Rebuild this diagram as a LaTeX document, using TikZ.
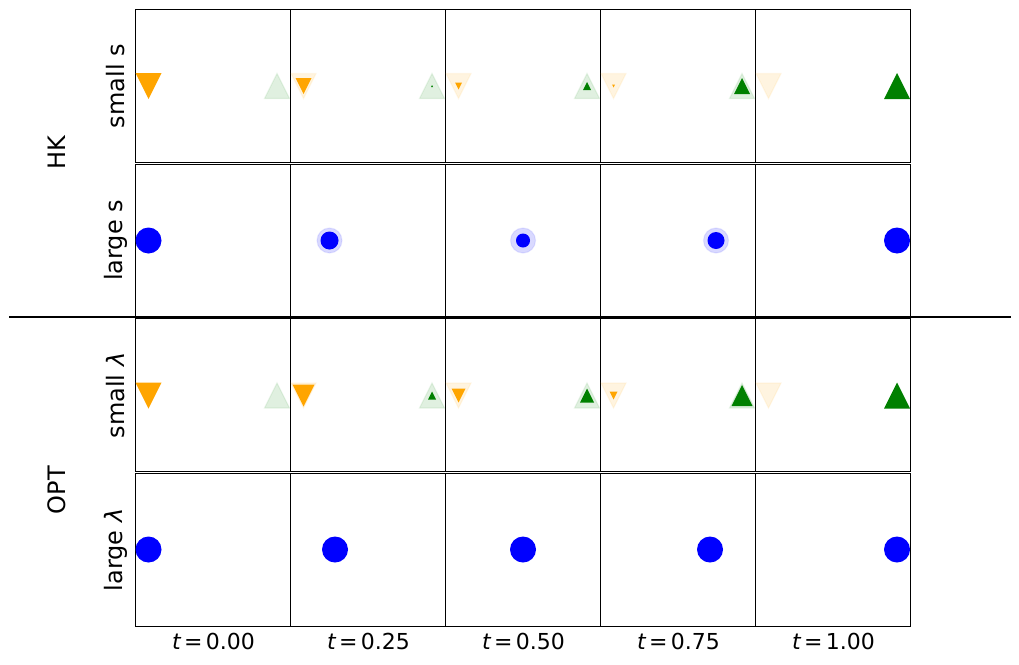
\documentclass[tikz,border=0pt]{standalone}
\usepackage{fontspec}
\setmainfont{DejaVu Sans}
\definecolor{mpor}{RGB}{255,165,0}
\definecolor{mpgr}{RGB}{0,128,0}
\definecolor{mpbl}{RGB}{0,0,255}
\newcommand\mkdn[4]{\filldraw[#4,shift={(#1,#2)},scale=#3/2] (-1,-1) -- (1,-1) -- (0,1) -- cycle;}
\newcommand\mkup[4]{\filldraw[#4,shift={(#1,#2)},scale=#3/2] (-1,1) -- (1,1) -- (0,-1) -- cycle;}
\newcommand\mkci[4]{\filldraw[#4] (#1,#2) circle[radius=#3/2*1pt];}
\begin{document}
\begin{tikzpicture}[x=1pt,y=-1pt,
  lab/.style={font=\fontsize{24}{28}\selectfont, rotate=90, inner sep=0pt},
  tlab/.style={font=\fontsize{22}{26}\selectfont, inner sep=0pt},
  panel/.style={draw=black, line width=0.8pt},
  om/.style={fill=mpor, draw=none}, omf/.style={fill=mpor, fill opacity=0.12, draw=mpor, draw opacity=0.08, line width=1.2pt, line join=miter},
  gm/.style={fill=mpgr, draw=none}, gmf/.style={fill=mpgr, fill opacity=0.12, draw=mpgr, draw opacity=0.08, line width=1.2pt, line join=miter},
  bm/.style={fill=mpbl, draw=none}, bmf/.style={fill=mpbl, fill opacity=0.15, draw=mpbl, draw opacity=0.08, line width=1.2pt}]
\useasboundingbox (0,0) rectangle (1019,664);
% panels
\foreach \ya/\yb in {9/162.5, 164.5/317, 318.5/471, 473/626}{
  \draw[panel] (135,\ya) rectangle (910,\yb);
  \foreach \xx in {290,445,600,755}{ \draw[panel] (\xx,\ya) -- (\xx,\yb); }
}
% separator
\coordinate (sepL) at (9,317);
\coordinate (sepR) at (1011,317);
\draw[line width=2pt] (sepL) -- (sepR);
% row 1 : HK small s
\mkdn{148.5}{86}{26}{om}
\mkup{277}{86}{25}{gmf}
\mkdn{303.5}{86}{25}{omf} \mkdn{303.5}{86}{16}{om}
\mkup{432}{86}{25}{gmf} \mkup{432}{86}{2}{gm}
\mkdn{458.5}{86}{25}{omf} \mkdn{458.5}{86}{7}{om}
\mkup{587}{86}{25}{gmf} \mkup{587}{86}{8}{gm}
\mkdn{613.5}{86}{25}{omf} \mkdn{613.5}{86}{3}{om}
\mkup{742}{86}{25}{gmf} \mkup{742}{86}{16}{gm}
\mkdn{768.5}{86}{25}{omf}
\mkup{897}{86}{26}{gm}
% row 2 : HK large s
\mkci{148.5}{240.5}{26}{bm}
\mkci{329.5}{240.5}{25}{bmf} \mkci{329.5}{240.5}{18}{bm}
\mkci{523}{240.5}{25}{bmf} \mkci{523}{240.5}{14}{bm}
\mkci{716}{240.5}{25}{bmf} \mkci{716}{240.5}{17}{bm}
\mkci{897}{240.5}{26}{bm}
% row 3 : OPT small lambda
\mkdn{148.5}{395.5}{26}{om}
\mkup{277}{395.5}{25}{gmf}
\mkdn{303.5}{395.5}{25}{omf} \mkdn{303.5}{395.5}{22}{om}
\mkup{432}{395.5}{25}{gmf} \mkup{432}{395.5}{8}{gm}
\mkdn{458.5}{395.5}{25}{omf} \mkdn{458.5}{395.5}{14}{om}
\mkup{587}{395.5}{25}{gmf} \mkup{587}{395.5}{14}{gm}
\mkdn{613.5}{395.5}{25}{omf} \mkdn{613.5}{395.5}{8}{om}
\mkup{742}{395.5}{25}{gmf} \mkup{742}{395.5}{21}{gm}
\mkdn{768.5}{395.5}{25}{omf}
\mkup{897}{395.5}{26}{gm}
% row 4 : OPT large lambda
\mkci{148.5}{549.5}{26}{bm}
\mkci{335}{549.5}{26}{bm}
\mkci{523}{549.5}{26}{bm}
\mkci{710}{549.5}{26}{bm}
\mkci{897}{549.5}{26}{bm}
% labels
\node[lab] (hk) at (57,153) {HK};
\node[lab] (opt) at (57,490) {OPT};
\node[lab] (smalls) at (116,86) {small s};
\node[lab] (larges) at (116,240.5) {large s};
\node[lab] (smalll) at (116,395.5) {small {\itshape λ}};
\node[lab] (largel) at (116,550) {large {\itshape λ}};
\node[tlab] (t0) at (213.5,641) {{\itshape t}\hspace{0.15em}=\hspace{0.15em}0.00};
\node[tlab] (t1) at (368.5,641) {{\itshape t}\hspace{0.15em}=\hspace{0.15em}0.25};
\node[tlab] (t2) at (523.5,641) {{\itshape t}\hspace{0.15em}=\hspace{0.15em}0.50};
\node[tlab] (t3) at (678.5,641) {{\itshape t}\hspace{0.15em}=\hspace{0.15em}0.75};
\node[tlab] (t4) at (833.5,641) {{\itshape t}\hspace{0.15em}=\hspace{0.15em}1.00};
\end{tikzpicture}
\end{document}
